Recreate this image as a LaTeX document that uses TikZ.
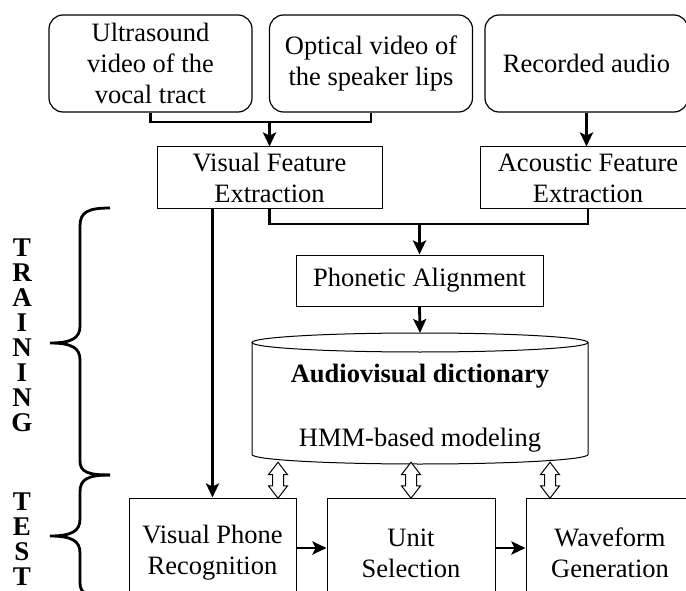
\documentclass[tikz,border=0pt]{standalone}
\usepackage{fontspec}
\setmainfont{Liberation Serif}
\usetikzlibrary{arrows.meta,shapes.arrows}
\tikzset{
  srcbox/.style={draw, rounded corners=14pt, line width=1.2pt, minimum width=203pt, minimum height=97pt, align=center, inner sep=0pt},
  procbox/.style={draw, line width=1pt, align=center, inner sep=0pt},
  flow/.style={line width=2.8pt, -{Stealth[length=14pt,width=13pt,inset=3pt]}},
  link/.style={line width=2.8pt},
  dblarr/.style={double arrow, draw, fill=white, line width=1pt, rotate=90, minimum height=36pt, inner xsep=0pt, inner ysep=5pt, double arrow head extend=4pt, double arrow tip angle=75},
  phase/.style={font=\fontsize{27}{25}\selectfont\bfseries, align=center}
}
\begin{document}
\begin{tikzpicture}[x=1pt, y=-1pt, font=\fontsize{26.5}{31}\selectfont]
                \useasboundingbox (0,0) rectangle (686,591);
                \clip (0,0) rectangle (686,591);
                \node[srcbox] (ultra) at (150.5,63.5) {Ultrasound\\video of the\\vocal tract};
                \node[srcbox] (optic) at (371,63.5) {Optical video of\\the speaker lips};
                \node[srcbox] (audio) at (586.5,63.5) {Recorded audio};
                \node[procbox, minimum width=225pt, minimum height=62pt] (vfe) at (269.5,178) {Visual Feature\\Extraction};
                \node[procbox, minimum width=216pt, minimum height=62pt] (afe) at (588,178) {Acoustic Feature\\Extraction};
                \node[procbox, minimum width=247pt, minimum height=51pt] (align) at (419.5,280.5) {Phonetic Alignment};
                \node[procbox, minimum width=167pt, minimum height=110pt] (vpr) at (212.5,553) {Visual Phone\\Recognition};
                \node[procbox, minimum width=168pt, minimum height=110pt] (unit) at (411,553) {Unit\\Selection};
                \node[procbox, minimum width=168pt, minimum height=110pt] (wave) at (610,553) {Waveform\\Generation};
                % audiovisual dictionary
                \draw[line width=1pt] (252,342.5) -- (252,454.5) arc[start angle=180, end angle=360, x radius=168pt, y radius=9.5pt] -- (588,342.5);
                \draw[line width=1pt] (420,342.5) ellipse [x radius=168pt, y radius=9.5pt];
                \node[align=center] (dict) at (420,408) {\textbf{Audiovisual dictionary}\\[33pt]HMM-based modeling};
                \coordinate (dtop) at (420,333);
                \coordinate (da1) at (278,463);
                \coordinate (da2) at (411,463);
                \coordinate (da3) at (550,463);
                \coordinate (vj) at (269.5,122);
                \coordinate (aj) at (419.5,224);
                \draw[link] (ultra.south) |- (vj) -| (optic.south);
                \draw[flow] (vj) -- (vfe.north);
                \draw[flow] (audio.south) -- (audio.south |- afe.north);
                \draw[link] (vfe.south) |- (aj) -| (afe.south);
                \draw[flow] (aj) -- (align.north);
                \draw[flow] (align.south) -- (dtop);
                \draw[flow] (vfe.south -| vpr.north) -- (vpr.north);
                \draw[flow] ([yshift=5pt]vpr.east) -- ([yshift=5pt]unit.west);
                \draw[flow] ([yshift=5pt]unit.east) -- ([yshift=5pt]wave.west);
                \path (da1) -- (vpr.north -| da1) node[midway, dblarr] (d1) {};
                \path (da2) -- (unit.north -| da2) node[midway, dblarr] (d2) {};
                \path (da3) -- (wave.north -| da3) node[midway, dblarr] (d3) {};
                % phases
                \draw[link] (110,208) .. controls (88,208) and (80,212) .. (80,226) -- (80,326) .. controls (80,338) and (72,343) .. (50,343) .. controls (72,343) and (80,348) .. (80,360) -- (80,461) .. controls (80,472) and (88,475) .. (110,475);
                \draw[link] (110,475) .. controls (88,475) and (80,479) .. (80,492) -- (80,519) .. controls (80,531) and (72,536) .. (50,536) .. controls (72,536) and (80,541) .. (80,553) -- (80,583) .. controls (80,594) and (88,597) .. (110,597);
                \node[phase] (train) at (22,335) {T\\R\\A\\I\\N\\I\\N\\G};
                \node[phase] (test) at (22,539.5) {T\\E\\S\\T};
\end{tikzpicture}
\end{document}
